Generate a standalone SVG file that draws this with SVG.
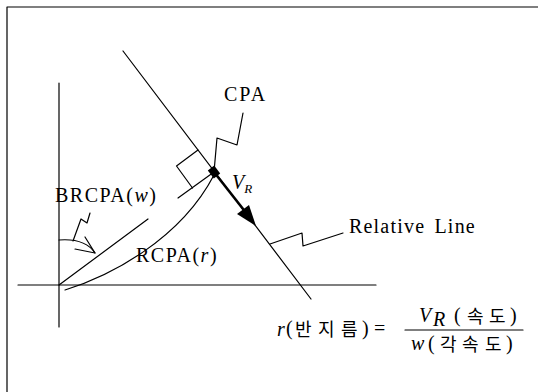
<svg xmlns="http://www.w3.org/2000/svg" width="538" height="392" viewBox="0 0 538 392">
<defs>
<style>
.ln{fill:none;stroke:#000;stroke-width:1.2;stroke-linecap:round;stroke-linejoin:round}
text{fill:#000}
.i{font-style:italic}
.s{font-family:"Liberation Serif","Times New Roman",serif;font-size:20px}
.k{font-family:"Noto Sans CJK KR",sans-serif;font-size:18px}
</style>
</defs>
<rect width="538" height="392" fill="#fff"/>
<g id="frame">
<path class="ln" d="M7,392 V7 H538" stroke-width="1.5"/>
</g>
<g id="axes">
<line class="ln" x1="59" y1="83" x2="59" y2="327"/>
<line class="ln" x1="18" y1="285" x2="376" y2="285"/>
</g>
<g id="connectors">
<line id="relative-line" class="ln" x1="123" y1="51" x2="311" y2="299"/>
<line id="brcpa-line" class="ln" x1="59" y1="285" x2="148" y2="219"/>
<line id="perp" class="ln" x1="214" y1="172" x2="178" y2="198"/>
<path id="right-angle" class="ln" d="M198,150 L176.5,166 L192.5,188"/>
<path id="rcpa-curve" class="ln" d="M65,290 C110,276 180,240 214,175"/>
<path id="arc" class="ln" d="M59,240 Q85,238 95,253"/>
<path id="arc-head" class="ln" d="M75,249 L95,253 L85,237"/>
<path id="brcpa-leader" class="ln" d="M90,213 L87,223 L81,219 L73,241"/>
<path id="cpa-leader" class="ln" d="M243,113 L237,145 L217,138 L214,172"/>
<path id="rel-leader" class="ln" d="M343,233 L303,246 L302,233 L270,244"/>
<line id="vr-arrow" x1="214" y1="172" x2="247" y2="214" stroke="#000" stroke-width="2.6"/>
<polygon id="vr-head" points="256,226 237,214 249,205" fill="#000"/>
</g>
<g id="cpa-point">
<rect x="-5" y="-4" width="10" height="8" fill="#000" transform="translate(214,172) rotate(53)"/>
</g>
<g id="label-cpa"><text class="s" x="224" y="101" letter-spacing="2">CPA</text></g>
<g id="label-vr"><text class="s" x="232" y="189"><tspan class="i">V</tspan><tspan class="i" font-size="13" dy="4">R</tspan></text></g>
<g id="label-brcpa"><text class="s" x="55" y="202" letter-spacing="1.5">BRCPA(<tspan class="i">w</tspan>)</text></g>
<g id="label-rcpa"><text class="s" x="136" y="262" letter-spacing="1.5">RCPA(<tspan class="i">r</tspan>)</text></g>
<g id="label-relative"><text class="s" x="349" y="233" letter-spacing="1.2">Relative <tspan dx="3">Line</tspan></text></g>
<g id="formula">
<text class="s i" x="277" y="336">r</text>
<text class="s" x="286" y="335">(</text>
<text class="k" y="336"><tspan x="295">반</tspan><tspan x="318">지</tspan><tspan x="341">름</tspan></text>
<text class="s" x="362" y="335">)</text>
<text class="s" x="374" y="335" font-size="24">=</text>
<line class="ln" x1="405" y1="330" x2="523" y2="330"/>
<text class="s i" x="419" y="322">V</text>
<text class="s i" x="433" y="326" font-size="13">R</text>
<text class="s" x="454" y="322">(</text>
<text class="k" y="323"><tspan x="467">속</tspan><tspan x="489">도</tspan></text>
<text class="s" x="510" y="322">)</text>
<text class="s i" x="411" y="350">w</text>
<text class="s" x="428" y="350">(</text>
<text class="k" y="351"><tspan x="440">각</tspan><tspan x="462">속</tspan><tspan x="485">도</tspan></text>
<text class="s" x="506" y="350">)</text>
</g>
</svg>
